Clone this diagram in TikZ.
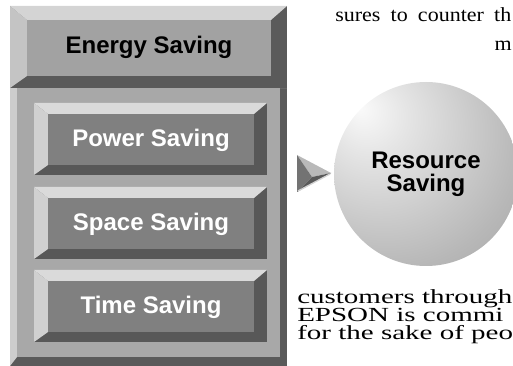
\documentclass[tikz,border=0pt]{standalone}
\usepackage{fontspec}
\setmainfont{Liberation Serif}
\setsansfont{Liberation Sans}
\newfontfamily\widefont[FakeStretch=1.45]{Liberation Serif}
\newfontfamily\midfont[FakeStretch=1.1]{Liberation Serif}
\usetikzlibrary{positioning}

\definecolor{topdark}{HTML}{5A5A5A}
\definecolor{topside}{HTML}{C4C4C4}
\definecolor{toplight}{HTML}{D4D4D4}
\definecolor{topface}{HTML}{A2A2A2}
\definecolor{bigdark}{HTML}{5A5A5A}
\definecolor{bigside}{HTML}{CDCDCD}
\definecolor{biglight}{HTML}{CDCDCD}
\definecolor{bigface}{HTML}{A8A8A8}
\definecolor{btndark}{HTML}{585858}
\definecolor{btnside}{HTML}{D0D0D0}
\definecolor{btnlight}{HTML}{DADADA}
\definecolor{btnface}{HTML}{808080}

\pgfdeclareradialshading{sphereshade}{\pgfpoint{-18bp}{18bp}}{%
  color(0bp)=(white!98!black);
  color(10bp)=(white!90!black);
  color(35bp)=(white!72!black);
  color(55bp)=(white!60!black);
  color(75bp)=(white!52!black)}

% outer x1,y1,x2,y2 -- inner x1,y1,x2,y2 -- colour prefix
\newcommand{\bevelbox}[9]{%
  \fill[#9dark] (#1,#2) rectangle (#3,#4);
  \fill[#9side] (#1,#2) -- (#5,#6) -- (#5,#8) -- (#1,#4) -- cycle;
  \fill[#9light] (#1,#2) -- (#3,#2) -- (#7,#6) -- (#5,#6) -- cycle;
  \fill[#9face] (#5,#6) rectangle (#7,#8);
}

\tikzset{
  boxlabel/.style={font=\sffamily\bfseries\fontsize{18}{17.5}\selectfont, inner sep=0pt},
  bodytext/.style={font=\widefont\fontsize{15}{18}\selectfont, anchor=base west, inner sep=0pt},
  toptext/.style={font=\midfont\fontsize{15}{18}\selectfont, anchor=base west, inner sep=0pt},
}

\begin{document}
\begin{tikzpicture}[x=0.75pt, y=-0.75pt]
\useasboundingbox (0,0) rectangle (513,366);
\clip (0,0) rectangle (513,366);
% left panel
\bevelbox{10}{88}{287}{366}{17}{88}{280}{357}{big}
\bevelbox{10}{6}{287}{88}{27}{20}{271}{76}{top}
\node[boxlabel] (energy) at (149,47) {Energy Saving};
\foreach \y/\name/\txt in {103/power/Power Saving, 187/space/Space Saving, 270/time/Time Saving}{
\bevelbox{34}{\y}{267}{\y+72}{48}{\y+11}{254}{\y+62}{btn}
\node[boxlabel, text=white] (\name) at (151,\y+37) {\txt};
}
% pointer
\fill[gray!55] (297,155) -- (331,173) -- (312,177) -- cycle;
\fill[gray!90!black] (297,155) -- (312,177) -- (297,192) -- cycle;
\fill[gray!70!black] (297,192) -- (312,177) -- (331,173) -- cycle;
\draw[gray!35, line width=1pt] (298,191) -- (330,174);
% sphere
\node[circle, minimum size=138pt, inner sep=0pt, shading=sphereshade,
  boxlabel, align=center] (resource) at (426,174) {Resource\\Saving};
% running text
\node[toptext] (line1) at (335,22) {\makebox[132pt][s]{sures to counter th}};
\node[toptext, anchor=base east] (line2) at (512,51) {m};
\node[bodytext] (line3) at (297,303) {customers through};
\node[bodytext] (line4) at (297,321) {EPSON is commi};
\node[bodytext] (line5) at (297,339) {for the sake of peo};
\end{tikzpicture}
\end{document}
